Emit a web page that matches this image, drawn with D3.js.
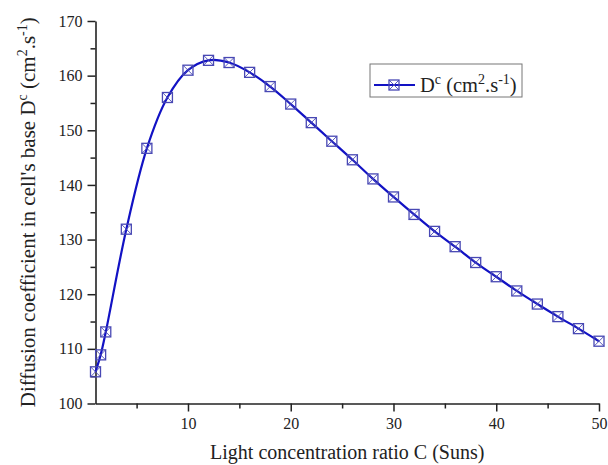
<!doctype html>
<html>
<head>
<meta charset="utf-8">
<style>
  body { margin: 0; background: #fff; }
  svg text { font-family: "Liberation Serif", "Times New Roman", serif; fill: #222; }
</style>
<script src="https://d3js.org/d3.v7.min.js"></script>
</head>
<body>
<svg id="chart" width="608" height="465"></svg>
<script>
// data
var concRatio = [1, 1.5, 2, 4, 6, 8, 10, 12, 14, 16, 18, 20, 22, 24, 26, 28, 30, 32, 34, 36, 38, 40, 42, 44, 46, 48, 50];
var diffCoef = [105.8, 108.9, 113.1, 131.9, 146.7, 156.0, 161.0, 162.8, 162.4, 160.6, 158.0, 154.8, 151.4, 148.0, 144.6, 141.1, 137.8, 134.6, 131.5, 128.7, 125.8, 123.2, 120.6, 118.2, 115.9, 113.7, 111.4];
var xTicks = [10, 20, 30, 40, 50];
var xMinor = [5, 15, 25, 35, 45];
var yTicks = [100, 110, 120, 130, 140, 150, 160, 170];
var yMinor = [105, 115, 125, 135, 145, 155, 165];

var lineColor = "#1212c4";
var markColor = "#4848b4";

var svg = d3.select("#chart");
var x = d3.scaleLinear().domain([1, 50]).range([95.5, 599]);
var y = d3.scaleLinear().domain([100, 170]).range([403.5, 21]);

var pts = concRatio.map(function(c, i) { return [c, diffCoef[i]]; });

// axes
var xAxis = svg.append("g").attr("transform", "translate(0," + y(100) + ")");
xAxis.call(d3.axisBottom(x).tickValues(xTicks).tickSize(8).tickPadding(6).tickSizeOuter(0));
xAxis.append("g").call(d3.axisBottom(x).tickValues(xMinor).tickSize(5).tickFormat("").tickSizeOuter(0))
  .select(".domain").remove();

var yAxis = svg.append("g").attr("transform", "translate(" + x(1) + ",0)");
yAxis.call(d3.axisLeft(y).tickValues(yTicks).tickSize(8).tickPadding(5).tickSizeOuter(0));
yAxis.append("g").call(d3.axisLeft(y).tickValues(yMinor).tickSize(5).tickFormat("").tickSizeOuter(0))
  .select(".domain").remove();

svg.selectAll(".domain").attr("stroke", "#222").attr("stroke-width", 1.6);
svg.selectAll(".tick line").attr("stroke", "#222").attr("stroke-width", 1.5);
svg.selectAll(".tick text").attr("font-size", 16).attr("fill", "#222")
  .attr("font-family", "Liberation Serif, serif");

// curve
var line = d3.line()
  .x(function(d) { return x(d[0]); })
  .y(function(d) { return y(d[1]); })
  .curve(d3.curveCatmullRom.alpha(0.5));

svg.append("path")
  .attr("d", line(pts))
  .attr("fill", "none")
  .attr("stroke", lineColor)
  .attr("stroke-width", 2.2);

function drawMark(g, cx, cy) {
  var s = 5;
  g.append("rect").attr("x", cx - s).attr("y", cy - s).attr("width", 2 * s).attr("height", 2 * s)
    .attr("fill", "none").attr("stroke", markColor).attr("stroke-width", 1.3);
  g.append("path")
    .attr("d", "M" + (cx - s) + "," + (cy - s) + "L" + (cx + s) + "," + (cy + s) +
               "M" + (cx + s) + "," + (cy - s) + "L" + (cx - s) + "," + (cy + s))
    .attr("stroke", markColor).attr("stroke-width", 0.9);
}

var marks = svg.append("g");
pts.forEach(function(d) { drawMark(marks, x(d[0]), y(d[1])); });

// legend
var lg = svg.append("g");
lg.append("rect").attr("x", 370).attr("y", 64).attr("width", 152).attr("height", 33)
  .attr("fill", "#fff").attr("stroke", "#777").attr("stroke-width", 1);
lg.append("line").attr("x1", 374).attr("x2", 415).attr("y1", 85).attr("y2", 85)
  .attr("stroke", lineColor).attr("stroke-width", 2.2);
drawMark(lg, 394, 85);
var lt = lg.append("text").attr("x", 420).attr("y", 92).attr("font-size", 20.5);
lt.append("tspan").text("D");
lt.append("tspan").attr("dy", -8).attr("font-size", 14).text("c");
lt.append("tspan").attr("dy", 8).text(" (cm");
lt.append("tspan").attr("dy", -8).attr("font-size", 14).text("2");
lt.append("tspan").attr("dy", 8).text(".s");
lt.append("tspan").attr("dy", -8).attr("font-size", 14).text("-1");
lt.append("tspan").attr("dy", 8).text(")");

// axis titles
svg.append("text")
  .attr("x", (x(1) + x(50)) / 2).attr("y", 459)
  .attr("text-anchor", "middle").attr("font-size", 20)
  .text("Light concentration ratio C (Suns)");

var yt = svg.append("text")
  .attr("transform", "translate(35," + ((y(100) + y(170)) / 2) + ") rotate(-90)")
  .attr("text-anchor", "middle").attr("font-size", 21);
yt.append("tspan").text("Diffusion coefficient in cell's base D");
yt.append("tspan").attr("dy", -8).attr("font-size", 14).text("c");
yt.append("tspan").attr("dy", 8).text(" (cm");
yt.append("tspan").attr("dy", -8).attr("font-size", 14).text("2");
yt.append("tspan").attr("dy", 8).text(".s");
yt.append("tspan").attr("dy", -8).attr("font-size", 14).text("-1");
yt.append("tspan").attr("dy", 8).text(")");
</script>
</body>
</html>
